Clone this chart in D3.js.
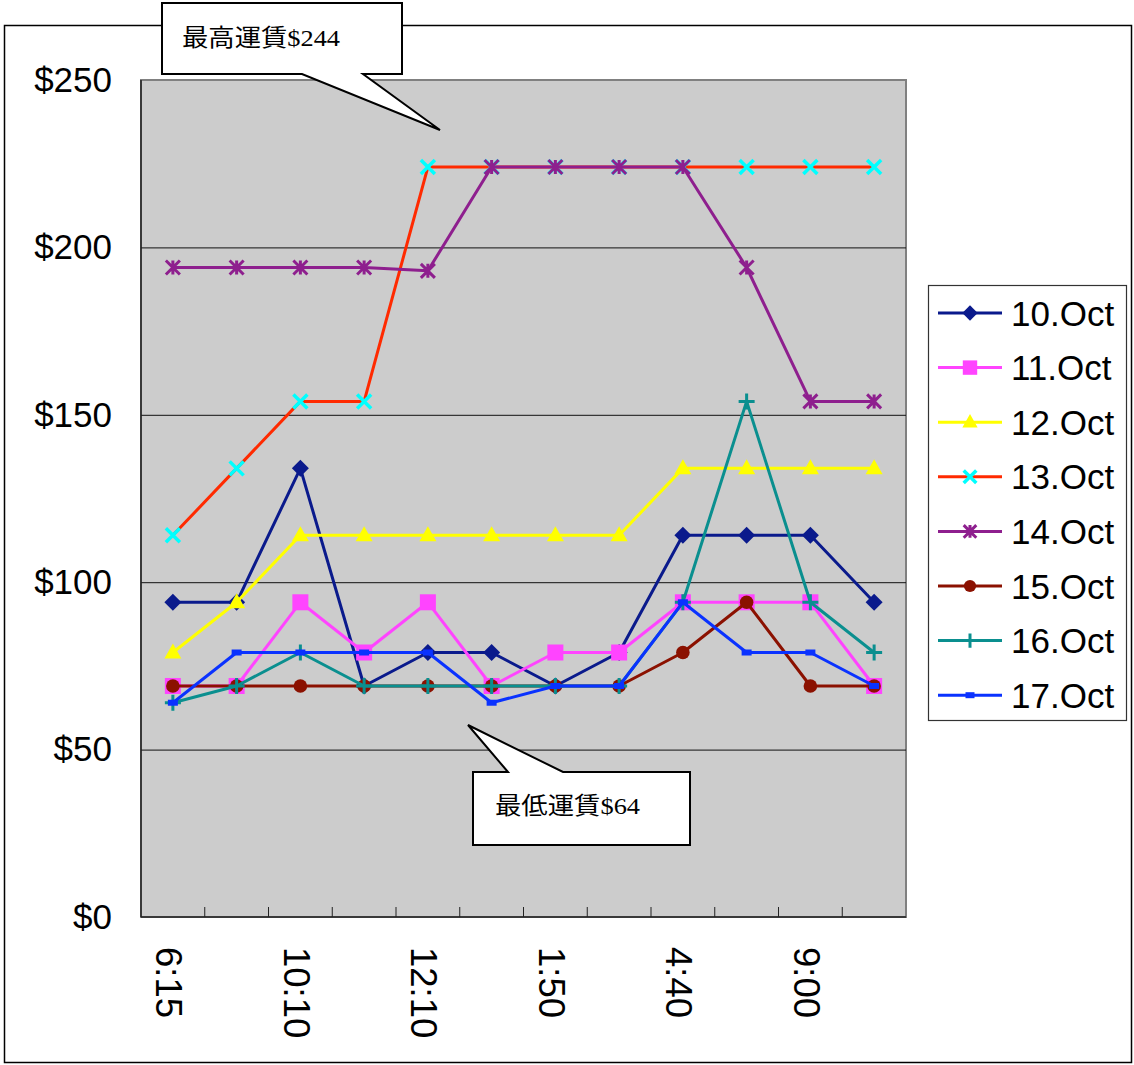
<!DOCTYPE html>
<html><head><meta charset="utf-8">
<script src="https://cdn.jsdelivr.net/npm/d3@7"></script>
<style>body{margin:0;background:#fff}</style></head>
<body>
<svg id="c" width="1134" height="1065"></svg>
<script>
const categories = ["6:15","","10:10","","12:10","","1:50","","4:40","","9:00",""];
const seriesNames = ["10.Oct","11.Oct","12.Oct","13.Oct","14.Oct","15.Oct","16.Oct","17.Oct"];
const oct10 = [94, 94, 134, 69, 79, 79, 69, 79, 114, 114, 114, 94];
const oct11 = [69, 69, 94, 79, 94, 69, 79, 79, 94, 94, 94, 69];
const oct12 = [79, 94, 114, 114, 114, 114, 114, 114, 134, 134, 134, 134];
const oct13 = [114, 134, 154, 154, 224, 224, 224, 224, 224, 224, 224, 224];
const oct14 = [194, 194, 194, 194, 193, 224, 224, 224, 224, 194, 154, 154];
const oct15 = [69, 69, 69, 69, 69, 69, 69, 69, 79, 94, 69, 69];
const oct16 = [64, 69, 79, 69, 69, 69, 69, 69, 94, 154, 94, 79];
const oct17 = [64, 79, 79, 79, 79, 64, 69, 69, 94, 79, 79, 69];
const yTicks = [0, 50, 100, 150, 200, 250];
const calloutHigh = "最高運賃$244";
const calloutLow = "最低運賃$64";

const seriesValues = [oct10, oct11, oct12, oct13, oct14, oct15, oct16, oct17];
const lineColors = ["#0a1a8c","#ff44ff","#ffff00","#ff2a00","#8e1f8e","#8b1100","#0a8f8f","#0a32ff"];
const markColors = ["#0a1a8c","#ff44ff","#ffff00","#00ffff","#8e1f8e","#8b1100","#0a8f8f","#0a32ff"];
const markTypes = ["diamond","square","triangle","x","asterisk","circle","plus","dash"];

const svg = d3.select("#c");
const L = 141, R = 906, T = 80, B = 917;
const x = d3.scaleBand().domain(d3.range(categories.length)).range([L, R]);
const y = d3.scaleLinear().domain([0, 250]).range([B, T]);
const cx = i => x(i) + x.bandwidth() / 2;
const FONT = "'Liberation Sans', Arial, sans-serif";

// outer frame
svg.append("rect").attr("x", 4.5).attr("y", 25.5).attr("width", 1127).attr("height", 1037)
  .attr("fill", "#fff").attr("stroke", "#000").attr("stroke-width", 1.5);

// plot area
svg.append("rect").attr("x", L).attr("y", T).attr("width", R - L).attr("height", B - T)
  .attr("fill", "#cccccc").attr("stroke", "#808080").attr("stroke-width", 2);

// gridlines
const grid = svg.append("g").attr("transform", `translate(${L},0)`)
  .call(d3.axisLeft(y).tickValues(yTicks.filter(v => v > 0 && v < 250)).tickSize(-(R - L)).tickFormat(""));
grid.select(".domain").remove();
grid.selectAll("line").attr("stroke", "#111").attr("stroke-width", 1);

// y labels
const yl = svg.append("g").attr("transform", `translate(${L},0)`)
  .call(d3.axisLeft(y).tickValues(yTicks).tickFormat(d => "$" + d).tickSize(0).tickPadding(29));
yl.select(".domain").remove();
yl.selectAll("text").attr("font-family", FONT).attr("font-size", 35).attr("fill", "#000");

// axes lines
svg.append("line").attr("x1", L).attr("x2", L).attr("y1", T).attr("y2", B).attr("stroke", "#222").attr("stroke-width", 1.5);
svg.append("line").attr("x1", L).attr("x2", R).attr("y1", B).attr("y2", B).attr("stroke", "#222").attr("stroke-width", 1.5);

// x boundary ticks (inside)
svg.append("g").selectAll("line").data(d3.range(1, categories.length)).join("line")
  .attr("x1", i => x(i)).attr("x2", i => x(i)).attr("y1", B - 10).attr("y2", B)
  .attr("stroke", "#222").attr("stroke-width", 1);

// x labels rotated
svg.append("g").selectAll("text").data(categories.map((c, i) => ({c, i})).filter(d => d.c))
  .join("text")
  .attr("transform", d => `translate(${cx(d.i) - 4},947) rotate(90)`)
  .attr("text-anchor", "start").attr("dominant-baseline", "central")
  .attr("font-family", FONT).attr("font-size", 36.5).attr("fill", "#000")
  .text(d => d.c);

function marker(g, type, px, py, color, s) {
  s = s || 1;
  if (type === "diamond") {
    g.append("path").attr("d", `M${px},${py-8.5*s}L${px+8.5*s},${py}L${px},${py+8.5*s}L${px-8.5*s},${py}Z`).attr("fill", color);
  } else if (type === "square") {
    g.append("rect").attr("x", px - 8*s).attr("y", py - 8*s).attr("width", 16*s).attr("height", 16*s).attr("fill", color);
  } else if (type === "triangle") {
    g.append("path").attr("d", `M${px},${py-9*s}L${px+8.5*s},${py+6*s}L${px-8.5*s},${py+6*s}Z`).attr("fill", color);
  } else if (type === "x") {
    const r = 7*s;
    g.append("path").attr("d", `M${px-r},${py-r}L${px+r},${py+r}M${px-r},${py+r}L${px+r},${py-r}`)
      .attr("stroke", color).attr("stroke-width", 3.5).attr("fill", "none");
  } else if (type === "asterisk") {
    const r = 7*s;
    g.append("path").attr("d", `M${px-r},${py-r}L${px+r},${py+r}M${px-r},${py+r}L${px+r},${py-r}M${px},${py-r}L${px},${py+r}`)
      .attr("stroke", color).attr("stroke-width", 3).attr("fill", "none");
  } else if (type === "circle") {
    g.append("circle").attr("cx", px).attr("cy", py).attr("r", 6.8*s).attr("fill", color);
  } else if (type === "plus") {
    const r = 8*s;
    g.append("path").attr("d", `M${px-r},${py}L${px+r},${py}M${px},${py-r}L${px},${py+r}`)
      .attr("stroke", color).attr("stroke-width", 3).attr("fill", "none");
  } else if (type === "dash") {
    g.append("rect").attr("x", px - 5*s).attr("y", py - 3).attr("width", 10*s).attr("height", 6).attr("fill", color);
  }
}

const lineGen = d3.line().x((d, i) => cx(i)).y(d => y(d));
seriesValues.forEach((vals, k) => {
  const g = svg.append("g");
  g.append("path").attr("d", lineGen(vals)).attr("fill", "none")
    .attr("stroke", lineColors[k]).attr("stroke-width", 3).attr("stroke-linejoin", "round");
  vals.forEach((v, i) => marker(g, markTypes[k], cx(i), y(v), markColors[k]));
});

// legend
const lg = svg.append("g");
lg.append("rect").attr("x", 928.5).attr("y", 285.5).attr("width", 198).attr("height", 435)
  .attr("fill", "#fff").attr("stroke", "#333").attr("stroke-width", 1.2);
seriesNames.forEach((n, k) => {
  const yy = 313 + k * 54.6;
  lg.append("line").attr("x1", 938).attr("x2", 1002).attr("y1", yy).attr("y2", yy)
    .attr("stroke", lineColors[k]).attr("stroke-width", 3);
  marker(lg, markTypes[k], 970, yy, markColors[k], 0.9);
  lg.append("text").attr("x", 1011).attr("y", yy).attr("dominant-baseline", "central")
    .attr("font-family", FONT).attr("font-size", 35).attr("fill", "#000").text(n);
});

// callouts
const CFONT = "'Liberation Serif', 'Noto Sans CJK JP', serif";
svg.append("path").attr("d", "M162,3H402V74H363L440,130L302,74H162Z")
  .attr("fill", "#fff").attr("stroke", "#000").attr("stroke-width", 2).attr("stroke-linejoin", "miter");
svg.append("text").attr("x", 182).attr("y", 38).attr("dominant-baseline", "central")
  .attr("font-family", CFONT).attr("font-size", 24).attr("textLength", 158).attr("lengthAdjust", "spacingAndGlyphs")
  .attr("fill", "#000").text(calloutHigh);
svg.append("path").attr("d", "M473,772H508L468,725L563,772H690V845H473Z")
  .attr("fill", "#fff").attr("stroke", "#000").attr("stroke-width", 2).attr("stroke-linejoin", "miter");
svg.append("text").attr("x", 495).attr("y", 806).attr("dominant-baseline", "central")
  .attr("font-family", CFONT).attr("font-size", 24).attr("textLength", 145).attr("lengthAdjust", "spacingAndGlyphs")
  .attr("fill", "#000").text(calloutLow);
</script>
</body></html>
